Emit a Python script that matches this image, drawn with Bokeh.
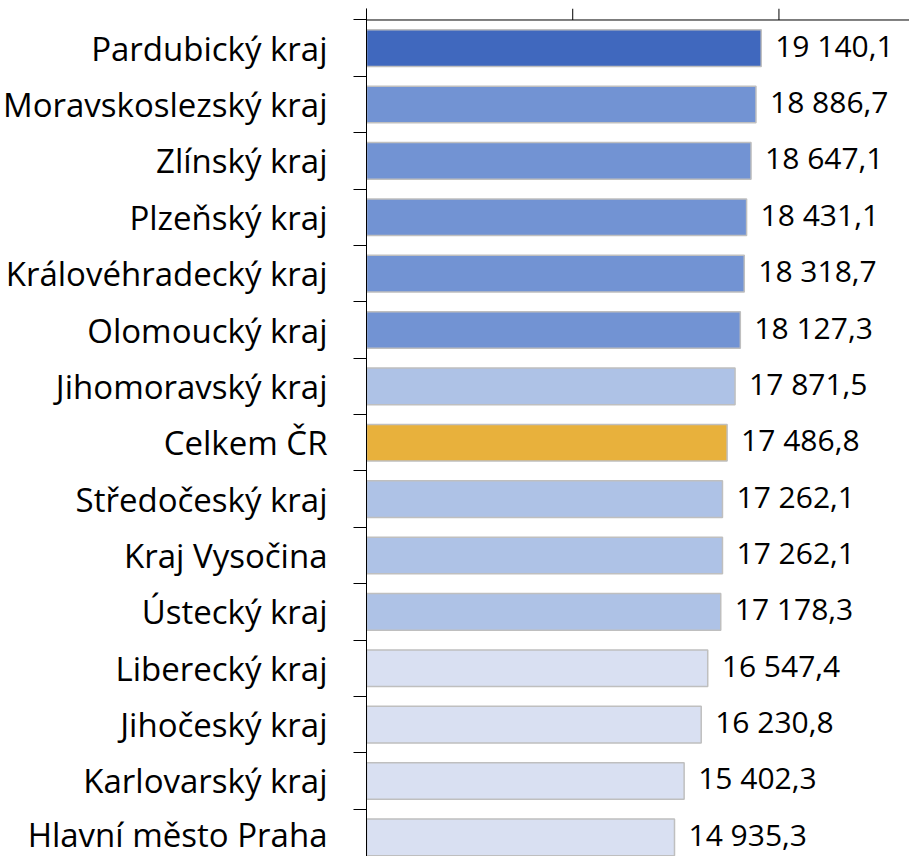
from bokeh.plotting import figure
from bokeh.models import ColumnDataSource, FixedTicker, Range1d, Span
from bokeh.core.properties import value
from bokeh.embed import file_html
from bokeh.resources import INLINE

regions = [
    "Pardubický kraj", "Moravskoslezský kraj", "Zlínský kraj", "Plzeňský kraj",
    "Královéhradecký kraj", "Olomoucký kraj", "Jihomoravský kraj", "Celkem ČR",
    "Středočeský kraj", "Kraj Vysočina", "Ústecký kraj", "Liberecký kraj",
    "Jihočeský kraj", "Karlovarský kraj", "Hlavní město Praha",
]
values = [19140.1, 18886.7, 18647.1, 18431.1, 18318.7, 18127.3, 17871.5, 17486.8,
          17262.1, 17262.1, 17178.3, 16547.4, 16230.8, 15402.3, 14935.3]
value_labels = ["19 140,1", "18 886,7", "18 647,1", "18 431,1", "18 318,7", "18 127,3",
                "17 871,5", "17 486,8", "17 262,1", "17 262,1", "17 178,3", "16 547,4",
                "16 230,8", "15 402,3", "14 935,3"]
groups = ["top", "high", "high", "high", "high", "high", "mid", "total",
          "mid", "mid", "mid", "low", "low", "low", "low"]
x_ticks = [0, 10000, 20000]

palette = {"top": "#4068BE", "high": "#7293D3", "mid": "#AEC2E6",
           "total": "#E8B13C", "low": "#D9E0F2"}

positions = list(range(len(regions)))
src = ColumnDataSource(dict(
    y=positions,
    value=values,
    label=value_labels,
    color=[palette[g] for g in groups],
))

Y_TOP = -0.704
Y_BOTTOM = 14.34

p = figure(width=909, height=856, output_backend="svg", toolbar_location=None,
           x_range=Range1d(0, 26331), y_range=Range1d(Y_BOTTOM, Y_TOP),
           min_border_left=366, min_border_right=0, min_border_top=8, min_border_bottom=0)
p.xaxis.visible = False

p.hbar(y="y", left=0, right="value", height=0.65, source=src,
       fill_color="color", line_color="#BFBFBF", line_width=1.5)

p.text(x="value", y="y", text="label", source=src, x_offset=14, y_offset=-3,
       text_align="left", text_baseline="middle", text_line_height=1.0,
       text_font=value("Open Sans"), text_font_size="30px", text_color="black")

# top value axis: line and upward ticks
p.add_layout(Span(location=-0.5, dimension="width", line_color="black", line_width=1))
p.segment(x0=x_ticks, y0=[-0.5] * len(x_ticks), x1=x_ticks, y1=[Y_TOP] * len(x_ticks),
          line_color="black", line_width=1)

p.xgrid.visible = False
p.ygrid.visible = False
p.outline_line_color = None

ya = p.yaxis[0]
ya.ticker = FixedTicker(ticks=positions, minor_ticks=[i - 0.5 for i in range(len(regions) + 1)])
ya.major_label_overrides = {i: r for i, r in enumerate(regions)}
ya.major_tick_out = 0
ya.major_tick_in = 0
ya.minor_tick_out = 13
ya.minor_tick_in = 0
ya.minor_tick_line_color = "black"
ya.axis_line_color = "black"
ya.major_label_standoff = 26
ya.major_label_text_font = "Open Sans"
ya.major_label_text_font_size = "33px"
ya.major_label_text_color = "black"

open("out.html", "w").write(file_html(p, INLINE))
